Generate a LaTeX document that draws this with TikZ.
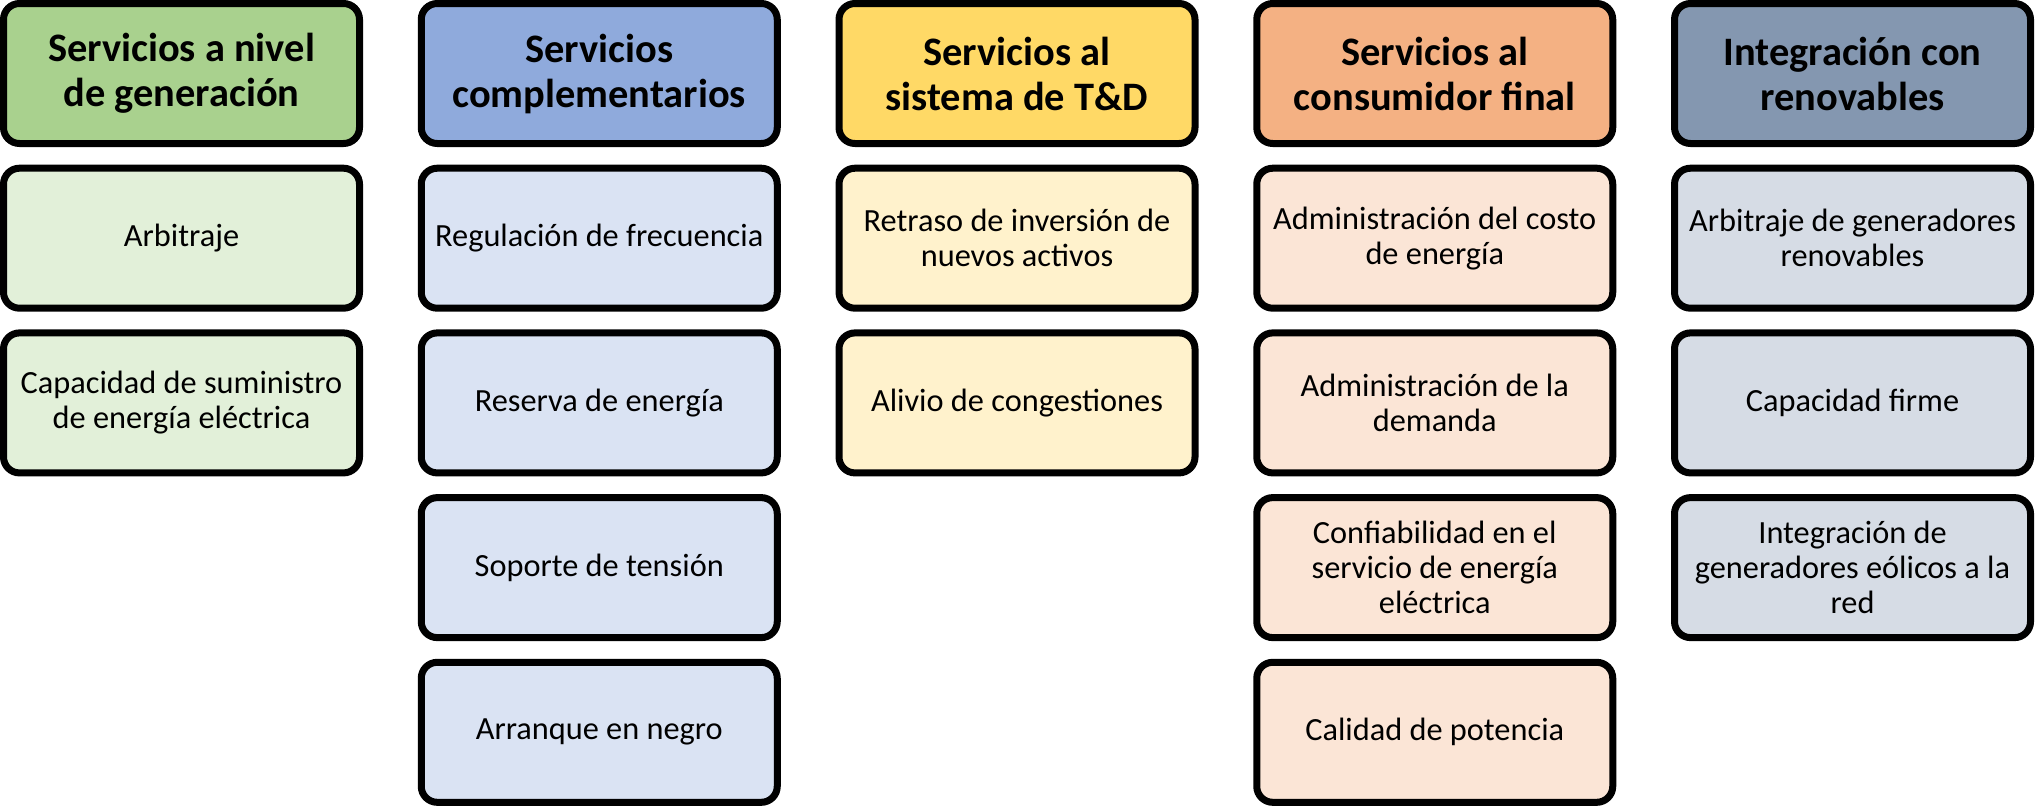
\documentclass[tikz,border=0pt]{standalone}
\usepackage{fontspec}
\setmainfont{Carlito}
\definecolor{genhead}{HTML}{A9D18E}
\definecolor{genbox}{HTML}{E2F0D9}
\definecolor{comphead}{HTML}{8FAADC}
\definecolor{compbox}{HTML}{DAE3F3}
\definecolor{tdhead}{HTML}{FFD966}
\definecolor{tdbox}{HTML}{FFF2CC}
\definecolor{conshead}{HTML}{F4B183}
\definecolor{consbox}{HTML}{FBE5D6}
\definecolor{renhead}{HTML}{8497B0}
\definecolor{renbox}{HTML}{D6DCE5}
\tikzset{
    card/.style={draw, line width=0.07cm, rounded corners=0.16cm, minimum width=3.56cm, minimum height=1.40cm, align=center, inner sep=0pt},
    head/.style={card, font=\fontsize{11.5}{12.8}\selectfont\bfseries},
    item/.style={card, font=\fontsize{9.2}{9.9}\selectfont}
}
\begin{document}
\begin{tikzpicture}
        \useasboundingbox (0,0) rectangle (20.41,-8.08);
        
        % Generacion
        \node[head, fill=genhead] (gen) at (1.815,-0.735) {Servicios a nivel\\de generación};
        \node[item, fill=genbox] (gen1) at (1.815,-2.382) {Arbitraje};
        \node[item, fill=genbox] (gen2) at (1.815,-4.029) {Capacidad de suministro\\de energía eléctrica};
        
        % Complementarios
        \node[head, fill=comphead] (comp) at (5.9925,-0.735) {Servicios\\complementarios};
        \node[item, fill=compbox] (comp1) at (5.9925,-2.382) {Regulación de frecuencia};
        \node[item, fill=compbox] (comp2) at (5.9925,-4.029) {Reserva de energía};
        \node[item, fill=compbox] (comp3) at (5.9925,-5.676) {Soporte de tensión};
        \node[item, fill=compbox] (comp4) at (5.9925,-7.323) {Arranque en negro};
        
        % Sistema de T&D
        \node[head, fill=tdhead] (td) at (10.17,-0.735) {Servicios al\\sistema de T\&D};
        \node[item, fill=tdbox] (td1) at (10.17,-2.382) {Retraso de inversión de\\nuevos activos};
        \node[item, fill=tdbox] (td2) at (10.17,-4.029) {Alivio de congestiones};
        
        % Consumidor final
        \node[head, fill=conshead] (cons) at (14.3475,-0.735) {Servicios al\\consumidor final};
        \node[item, fill=consbox] (cons1) at (14.3475,-2.382) {Administración del costo\\de energía};
        \node[item, fill=consbox] (cons2) at (14.3475,-4.029) {Administración de la\\demanda};
        \node[item, fill=consbox] (cons3) at (14.3475,-5.676) {Confiabilidad en el\\servicio de energía\\eléctrica};
        \node[item, fill=consbox] (cons4) at (14.3475,-7.323) {Calidad de potencia};
        
        % Renovables
        \node[head, fill=renhead] (ren) at (18.525,-0.735) {Integración con\\renovables};
        \node[item, fill=renbox] (ren1) at (18.525,-2.382) {Arbitraje de generadores\\renovables};
        \node[item, fill=renbox] (ren2) at (18.525,-4.029) {Capacidad firme};
        \node[item, fill=renbox] (ren3) at (18.525,-5.676) {Integración de\\generadores eólicos a la\\red};
    \end{tikzpicture}
\end{document}
